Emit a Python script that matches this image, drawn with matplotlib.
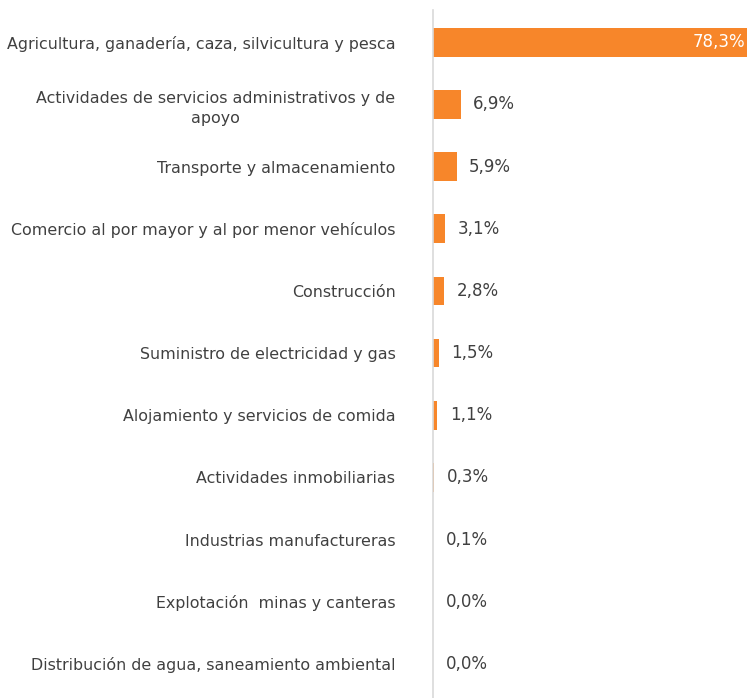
import matplotlib.pyplot as plt

categories = [
    'Agricultura, ganadería, caza, silvicultura y pesca',
    'Actividades de servicios administrativos y de\napoyo',
    'Transporte y almacenamiento',
    'Comercio al por mayor y al por menor vehículos',
    'Construcción',
    'Suministro de electricidad y gas',
    'Alojamiento y servicios de comida',
    'Actividades inmobiliarias',
    'Industrias manufactureras',
    'Explotación  minas y canteras',
    'Distribución de agua, saneamiento ambiental',
]
values = [78.3, 6.9, 5.9, 3.1, 2.8, 1.5, 1.1, 0.3, 0.1, 0.0, 0.0]
value_labels = ['78,3%', '6,9%', '5,9%', '3,1%', '2,8%', '1,5%', '1,1%', '0,3%', '0,1%', '0,0%', '0,0%']

bar_color = '#F7862A'
text_color = '#404040'

plt.rcParams['font.family'] = ['DejaVu Sans']

fig = plt.figure(figsize=(7.47, 6.98), dpi=100)
ax = fig.add_axes([433 / 747, 0.0, 314 / 747, 1 - 10 / 698])

y = list(range(len(categories)))
ax.barh(y, values, height=0.46, color=bar_color, zorder=2)
ax.set_ylim(len(categories) - 0.5 + 0.05, -0.5 - 0.02)
ax.set_xlim(0, 78.3)

ax.set_yticks(y)
ax.set_yticklabels(categories, fontsize=11.45, color=text_color, linespacing=1.4)
ax.tick_params(axis='y', length=0, pad=27)
ax.set_xticks([])
for s in ['top', 'right', 'bottom']:
    ax.spines[s].set_visible(False)
ax.spines['left'].set_color('#D9D9D9')
ax.spines['left'].set_linewidth(1.2)

for i, (v, lab) in enumerate(zip(values, value_labels)):
    if v > 50:
        ax.text(v - 0.4, i, lab, ha='right', va='center', color='white', fontsize=12)
    else:
        ax.annotate(lab, (v, i), xytext=(9, 0), textcoords='offset points',
                    ha='left', va='center', color=text_color, fontsize=12)

for t in ax.get_yticklabels():
    t.set_multialignment('center')

fig.savefig('out.png', dpi=100)
